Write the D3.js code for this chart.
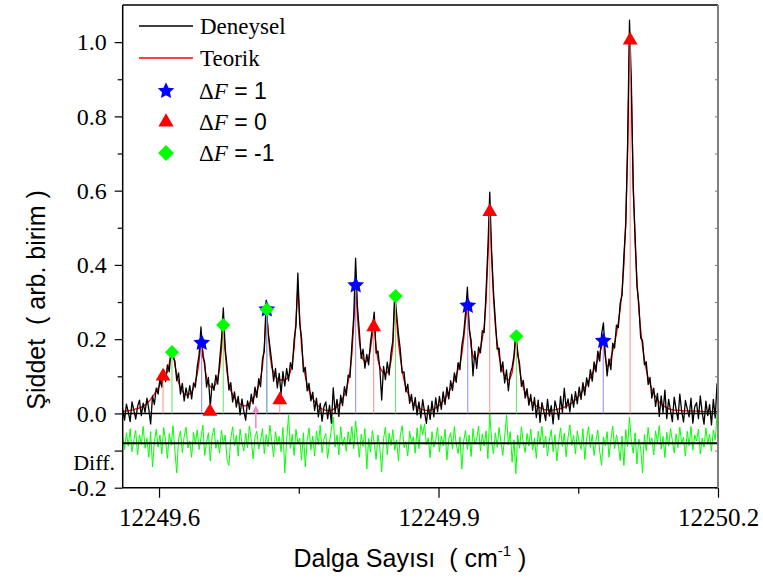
<!DOCTYPE html>
<html lang="tr">
<head>
  <meta charset="UTF-8">
  <title>Şiddet - Dalga Sayısı</title>
  <script src="https://cdn.jsdelivr.net/npm/d3@7/dist/d3.min.js"></script>
  <style>
    body { margin: 0; background: #fff; }
    svg { display: block; }
  </style>
</head>
<body>
<svg id="chart" width="763" height="581"></svg>
<script>
// spectrum grid (cm-1)
const wnStart = 12249.561;
const wnStep = 0.002;

// experimental spectrum (Deneysel)
const deneysel = [
  0.012,-0.018,0.025,0.004,-0.022,0.031,0.008,-0.015,0.019,0.036,-0.006,0.028,0.003,0.041,0.012,-0.028,0.047,0.024,0.068,0.052,
  0.094,0.071,0.118,0.086,0.131,0.112,0.176,0.151,0.142,0.088,0.109,0.052,0.081,0.034,0.069,0.041,0.075,0.039,0.082,0.071,
  0.126,0.158,0.233,0.152,0.138,0.071,0.097,0.018,0.081,0.062,0.103,0.079,0.141,0.198,0.284,0.176,0.127,0.063,0.083,0.031,
  0.058,0.017,0.046,-0.004,0.039,0.006,-0.018,0.034,0.011,0.052,0.026,0.071,0.043,0.094,0.072,0.146,0.168,0.305,0.219,0.181,
  0.138,0.087,0.121,0.069,0.108,0.052,0.113,0.074,0.121,0.088,0.137,0.119,0.198,0.236,0.378,0.241,0.203,0.112,0.124,0.061,
  0.081,0.034,0.057,0.008,0.041,-0.009,0.027,-0.021,0.018,0.031,-0.014,0.022,-0.026,0.069,0.002,0.038,-0.008,0.049,0.021,0.072,
  0.048,0.103,0.097,0.184,0.262,0.418,0.287,0.221,0.148,0.173,0.122,0.159,0.131,0.192,0.229,0.273,0.162,0.168,0.121,0.036,
  0.127,0.091,0.138,0.104,0.163,0.196,0.327,0.268,0.214,0.171,0.109,0.112,0.058,0.079,0.027,0.051,0.009,0.043,-0.004,0.031,
  -0.012,0.037,0.004,-0.027,0.021,-0.016,0.033,-0.009,0.042,0.005,0.046,0.011,0.058,0.024,0.071,0.039,0.088,0.062,0.109,0.084,
  0.137,0.118,0.182,0.214,0.271,0.340,0.226,0.197,0.101,0.168,0.121,0.179,0.163,0.223,0.218,0.327,0.446,0.596,0.437,0.328,
  0.251,0.173,0.176,0.112,0.139,0.082,0.117,0.061,0.108,0.124,0.156,0.220,0.158,0.134,0.073,0.089,0.041,0.067,0.022,0.051,
  0.008,0.043,-0.011,0.036,-0.024,0.029,0.006,-0.019,0.038,-0.007,0.021,-0.028,0.034,0.012,-0.016,0.046,0.003,0.068,0.014,0.039,
  0.004,0.051,0.017,0.059,0.026,0.071,0.038,0.083,0.049,0.096,0.072,0.118,0.087,0.139,0.112,0.168,0.141,0.212,0.244,0.162,
  0.101,0.147,0.118,0.189,0.176,0.238,0.231,0.297,0.318,0.426,0.508,0.731,1.059,0.893,0.604,0.481,0.342,0.297,0.203,0.196,
  0.131,0.139,0.078,0.097,0.041,0.068,0.019,0.054,-0.008,0.047,0.003,0.063,-0.014,0.038,0.009,-0.022,0.044,0.011,-0.017,0.052,
  0.006,-0.023,0.035,0.012,-0.009,0.041,-0.026,0.018,0.029,-0.014,0.047,0.002,-0.029,0.033,-0.006,0.024,-0.031,0.038,-0.012,0.081
];

// fitted spectrum (Teorik)
const teorik = [
  0.005,0.006,0.007,0.007,0.008,0.009,0.010,0.012,0.013,0.015,0.017,0.020,0.023,0.027,0.032,0.038,0.045,0.052,0.060,0.068,
  0.078,0.088,0.097,0.100,0.112,0.135,0.160,0.165,0.130,0.105,0.083,0.070,0.060,0.053,0.050,0.050,0.053,0.058,0.068,0.085,
  0.105,0.140,0.190,0.170,0.125,0.095,0.080,0.072,0.070,0.072,0.080,0.095,0.120,0.170,0.240,0.165,0.110,0.080,0.062,0.050,
  0.042,0.035,0.030,0.025,0.022,0.020,0.021,0.023,0.027,0.033,0.040,0.048,0.060,0.075,0.095,0.125,0.180,0.270,0.230,0.160,
  0.125,0.110,0.100,0.094,0.090,0.090,0.090,0.090,0.093,0.100,0.112,0.135,0.175,0.250,0.340,0.260,0.180,0.130,0.100,0.078,
  0.062,0.050,0.040,0.032,0.025,0.020,0.015,0.012,0.010,0.008,0.008,0.008,0.009,0.011,0.014,0.018,0.023,0.030,0.040,0.050,
  0.065,0.085,0.115,0.160,0.240,0.340,0.260,0.195,0.160,0.145,0.140,0.140,0.150,0.175,0.210,0.230,0.180,0.145,0.125,0.115,
  0.110,0.108,0.110,0.120,0.140,0.180,0.300,0.250,0.190,0.150,0.115,0.090,0.070,0.055,0.044,0.035,0.028,0.022,0.018,0.014,
  0.012,0.010,0.009,0.008,0.008,0.009,0.010,0.012,0.015,0.018,0.022,0.027,0.033,0.040,0.048,0.057,0.067,0.078,0.090,0.103,
  0.118,0.135,0.160,0.200,0.250,0.290,0.235,0.180,0.155,0.145,0.148,0.158,0.175,0.200,0.235,0.300,0.420,0.540,0.420,0.310,
  0.235,0.190,0.155,0.130,0.113,0.100,0.093,0.090,0.095,0.110,0.145,0.200,0.170,0.120,0.090,0.070,0.058,0.048,0.040,0.034,
  0.029,0.024,0.020,0.017,0.015,0.013,0.011,0.010,0.010,0.009,0.009,0.009,0.010,0.011,0.012,0.013,0.015,0.017,0.019,0.022,
  0.025,0.028,0.032,0.037,0.042,0.048,0.055,0.062,0.070,0.078,0.087,0.096,0.106,0.118,0.130,0.145,0.160,0.180,0.195,0.150,
  0.125,0.130,0.148,0.168,0.190,0.215,0.245,0.280,0.330,0.400,0.520,0.700,1.000,0.860,0.620,0.460,0.360,0.280,0.225,0.180,
  0.145,0.118,0.096,0.080,0.066,0.055,0.045,0.037,0.030,0.025,0.021,0.018,0.015,0.013,0.011,0.010,0.009,0.009,0.008,0.008,
  0.008,0.007,0.007,0.007,0.007,0.006,0.006,0.006,0.006,0.006,0.006,0.005,0.005,0.005,0.005,0.005,0.005,0.005,0.005,0.005
];

// residual, plotted around -0.08 (Diff.)
const fark = [
  -0.064,-0.097,-0.052,-0.088,-0.041,-0.103,-0.071,-0.046,-0.112,-0.058,-0.083,-0.035,-0.094,-0.067,-0.118,-0.049,-0.144,-0.076,-0.043,-0.091,
  -0.058,-0.109,-0.038,-0.072,-0.121,-0.054,-0.086,-0.033,-0.099,-0.160,-0.069,-0.047,-0.105,-0.062,-0.037,-0.093,-0.074,-0.118,-0.051,-0.082,
  -0.044,-0.097,-0.066,-0.031,-0.113,-0.078,-0.052,-0.128,-0.061,-0.039,-0.094,-0.071,-0.107,-0.045,-0.083,-0.058,-0.124,-0.140,-0.068,-0.036,
  -0.087,-0.059,-0.115,-0.042,-0.079,-0.101,-0.053,-0.092,-0.034,-0.071,-0.122,-0.063,-0.048,-0.096,-0.074,-0.041,-0.108,-0.057,-0.089,-0.032,
  -0.076,-0.117,-0.049,-0.085,-0.062,-0.103,-0.038,-0.160,-0.071,-0.005,-0.094,-0.056,-0.113,-0.043,-0.081,-0.067,-0.126,-0.052,-0.144,-0.073,
  -0.039,-0.098,-0.061,-0.115,-0.047,-0.084,-0.032,-0.106,-0.069,-0.054,-0.121,-0.077,-0.043,-0.010,-0.091,-0.058,-0.112,-0.036,-0.087,-0.064,
  -0.102,-0.049,-0.083,-0.035,-0.095,-0.020,-0.072,-0.118,-0.056,-0.089,-0.041,-0.150,-0.067,-0.104,-0.046,-0.079,-0.124,-0.058,-0.093,-0.157,
  -0.068,-0.037,-0.111,-0.053,-0.086,-0.044,-0.099,-0.071,-0.128,-0.059,-0.033,-0.092,-0.076,-0.114,-0.048,-0.081,-0.063,-0.107,-0.039,-0.095,
  -0.030,-0.057,-0.028,-0.084,-0.066,-0.119,-0.049,-0.091,-0.072,-0.038,-0.104,-0.061,-0.087,-0.043,-0.125,-0.069,-0.052,-0.096,-0.035,-0.082,
  -0.108,-0.063,-0.150,-0.074,-0.046,-0.097,-0.058,-0.116,-0.041,-0.083,-0.069,-0.034,-0.101,-0.055,-0.088,-0.047,-0.122,0.000,-0.073,-0.109,
  -0.052,-0.091,-0.038,-0.077,-0.113,-0.062,-0.005,-0.084,-0.049,-0.131,-0.071,-0.162,-0.058,-0.094,-0.036,-0.079,-0.105,-0.054,-0.088,-0.042,
  -0.099,-0.067,-0.121,-0.048,-0.082,-0.035,-0.093,-0.061,-0.114,-0.072,-0.044,-0.103,-0.057,-0.128,-0.076,-0.039,-0.089,-0.053,-0.117,-0.065,
  -0.031,-0.086,-0.059,-0.109,-0.047,-0.078,-0.097,-0.041,-0.124,-0.068,-0.036,-0.092,-0.056,-0.113,-0.074,-0.045,-0.101,-0.140,-0.063,-0.087,
  -0.049,-0.118,-0.071,-0.034,-0.095,-0.058,-0.083,-0.127,-0.061,-0.140,-0.044,-0.089,-0.010,-0.076,-0.107,-0.052,-0.136,-0.069,-0.093,-0.160,
  -0.057,-0.101,-0.038,-0.084,-0.066,-0.112,-0.047,-0.079,-0.033,-0.096,-0.062,-0.119,-0.051,-0.088,-0.041,-0.073,-0.106,-0.055,-0.092,-0.037,
  -0.081,-0.064,-0.115,-0.048,-0.087,-0.035,-0.099,-0.058,-0.074,-0.042,-0.109,-0.066,-0.091,-0.039,-0.083,-0.056,-0.102,-0.045,-0.071,-0.004
];
const diffBase = -0.08;

// line positions and intensities
const dF1Pos = [12249.6458, 12249.7157, 12249.8111, 12249.9314, 12250.0768];
const dF1Val = [0.190, 0.280, 0.345, 0.290, 0.195];
const dF0Pos = [12249.6043, 12249.6546, 12249.7296, 12249.8304, 12249.9550, 12250.1057];
const dF0Val = [0.100, 0.005, 0.036, 0.233, 0.543, 1.005];
const dFm1Pos = [12249.6139, 12249.6689, 12249.7157, 12249.8539, 12249.9836];
const dFm1Val = [0.165, 0.238, 0.280, 0.316, 0.208];

// small pink arrow under the baseline
const arrowPos = [12249.7039];
const arrowFrom = [-0.040];
const arrowTo = [0.022];

// ticks
const yTicks = [-0.2, -0.1, 0.0, 0.1, 0.2, 0.3, 0.4, 0.5, 0.6, 0.7, 0.8, 0.9, 1.0];
const yLabeled = [-0.2, 0.0, 0.2, 0.4, 0.6, 0.8, 1.0];
const xTicks = [12249.6, 12249.75, 12249.9, 12250.05, 12250.2];
const xLabeled = [12249.6, 12249.9, 12250.2];

const serif = '"Liberation Serif", "Times New Roman", serif';
const sans = '"Liberation Sans", Arial, sans-serif';

const svg = d3.select('#chart');
const L = 122.7, R = 718, T = 5, B = 487.7;

const x = d3.scaleLinear().domain([12249.561, 12250.2]).range([L, R]);
const y = d3.scaleLinear().domain([-0.2, 1.1]).range([B, T]);

// five-point star with fatter arms than d3.symbolStar
const fatStar = {
  draw(ctx, size) {
    const r = Math.sqrt(size), ri = r * 0.48;
    for (let k = 0; k < 10; k++) {
      const rr = k % 2 ? ri : r;
      const a = -Math.PI / 2 + k * Math.PI / 5;
      if (k === 0) ctx.moveTo(rr * Math.cos(a), rr * Math.sin(a));
      else ctx.lineTo(rr * Math.cos(a), rr * Math.sin(a));
    }
    ctx.closePath();
  }
};

svg.append('defs').append('clipPath').attr('id', 'plot-clip')
  .append('rect').attr('x', L).attr('y', T).attr('width', R - L).attr('height', B - T);

const plot = svg.append('g').attr('clip-path', 'url(#plot-clip)');

const spectrumLine = d3.line()
  .x((d, i) => x(wnStart + i * wnStep))
  .y(d => y(d));

// diff trace
plot.append('path').datum(fark)
  .attr('d', spectrumLine)
  .attr('fill', 'none').attr('stroke', '#00ff00').attr('stroke-width', 1);

// theory under experiment
plot.append('path').datum(teorik)
  .attr('d', spectrumLine)
  .attr('fill', 'none').attr('stroke', '#ff0000').attr('stroke-width', 1.3);

plot.append('path').datum(deneysel)
  .attr('d', spectrumLine)
  .attr('fill', 'none').attr('stroke', '#000').attr('stroke-width', 1.3)
  .attr('stroke-linejoin', 'round');

// baselines
plot.append('line')
  .attr('x1', L).attr('x2', R).attr('y1', y(0)).attr('y2', y(0))
  .attr('stroke', '#000').attr('stroke-width', 1.5);
plot.append('line')
  .attr('x1', L).attr('x2', R).attr('y1', y(diffBase)).attr('y2', y(diffBase))
  .attr('stroke', '#000').attr('stroke-width', 2);

// stick lines
const sticks = [
  { pos: dF0Pos, val: dF0Val, color: '#ff8c8c' },
  { pos: dFm1Pos, val: dFm1Val, color: '#5fea5f' },
  { pos: dF1Pos, val: dF1Val, color: '#8c8cff' }
];
sticks.forEach(s => {
  plot.selectAll(null)
    .data(s.pos)
    .join('line')
    .attr('x1', d => x(d)).attr('x2', d => x(d))
    .attr('y1', y(0)).attr('y2', (d, i) => y(s.val[i]))
    .attr('stroke', s.color).attr('stroke-width', 1);
});

// pink arrow
plot.selectAll(null)
  .data(arrowPos)
  .join('line')
  .attr('x1', d => x(d)).attr('x2', d => x(d))
  .attr('y1', (d, i) => y(arrowFrom[i])).attr('y2', (d, i) => y(arrowTo[i]) + 4)
  .attr('stroke', '#e68ac8').attr('stroke-width', 1.5);
plot.selectAll(null)
  .data(arrowPos)
  .join('path')
  .attr('d', (d, i) => {
    const px = x(d), py = y(arrowTo[i]);
    return `M${px},${py}L${px - 3.5},${py + 7}L${px + 3.5},${py + 7}Z`;
  })
  .attr('fill', '#e68ac8');

// markers
const star = d3.symbol().type(fatStar).size(78);
const tri = d3.symbol().type(d3.symbolTriangle).size(95);
const dia = d3.symbol().type(d3.symbolSquare).size(100);

svg.selectAll('.m-star')
  .data(dF1Pos)
  .join('path')
  .attr('class', 'm-star')
  .attr('d', star)
  .attr('transform', (d, i) => `translate(${x(d)},${y(dF1Val[i])})`)
  .attr('fill', '#0000ff');

svg.selectAll('.m-tri')
  .data(dF0Pos)
  .join('path')
  .attr('class', 'm-tri')
  .attr('d', tri)
  .attr('transform', (d, i) => `translate(${x(d)},${y(dF0Val[i])})`)
  .attr('fill', '#ff0000');

svg.selectAll('.m-dia')
  .data(dFm1Pos)
  .join('path')
  .attr('class', 'm-dia')
  .attr('d', dia)
  .attr('transform', (d, i) => `translate(${x(d)},${y(dFm1Val[i])}) rotate(45)`)
  .attr('fill', '#00ff00');

// axes
const yAxis = svg.append('g')
  .attr('transform', `translate(${L},0)`)
  .call(d3.axisLeft(y).tickValues(yTicks).tickSize(8).tickSizeOuter(0).tickPadding(8)
    .tickFormat(d => yLabeled.some(v => Math.abs(v - d) < 1e-9) ? d.toFixed(1) : ''));
yAxis.select('.domain').remove();
yAxis.selectAll('.tick line')
  .attr('x2', d => yLabeled.some(v => Math.abs(v - d) < 1e-9) || Math.abs(d + 0.1) < 1e-9 ? -8 : -5)
  .attr('stroke-width', 1.2);
yAxis.selectAll('.tick text')
  .attr('font-family', serif).attr('font-size', 24).attr('fill', '#000');

const yAxisRight = svg.append('g')
  .attr('transform', `translate(${R},0)`)
  .call(d3.axisLeft(y).tickValues(yTicks).tickSize(3).tickFormat(''));
yAxisRight.select('.domain').remove();
yAxisRight.selectAll('.tick line').attr('stroke', '#777');

const xAxis = svg.append('g')
  .attr('transform', `translate(0,${B})`)
  .call(d3.axisBottom(x).tickValues(xTicks).tickSize(10).tickSizeOuter(0).tickPadding(11)
    .tickFormat(d => xLabeled.some(v => Math.abs(v - d) < 1e-6) ? d.toFixed(1) : ''));
xAxis.select('.domain').remove();
xAxis.selectAll('.tick line')
  .attr('y2', d => xLabeled.some(v => Math.abs(v - d) < 1e-6) ? 10 : 6)
  .attr('stroke-width', 1.2);
xAxis.selectAll('.tick text')
  .attr('font-family', serif).attr('font-size', 25).attr('fill', '#000');

// frame
svg.append('line').attr('x1', L).attr('x2', R).attr('y1', T).attr('y2', T)
  .attr('stroke', '#000').attr('stroke-width', 1.5);
svg.append('line').attr('x1', L).attr('x2', R).attr('y1', B).attr('y2', B)
  .attr('stroke', '#000').attr('stroke-width', 1.5);
svg.append('line').attr('x1', L).attr('x2', L).attr('y1', T).attr('y2', B)
  .attr('stroke', '#000').attr('stroke-width', 1.5);
svg.append('line').attr('x1', R).attr('x2', R).attr('y1', T).attr('y2', B)
  .attr('stroke', '#808080').attr('stroke-width', 2);

// Diff. label
svg.append('text')
  .attr('x', 115).attr('y', 470)
  .attr('text-anchor', 'end')
  .attr('font-family', serif).attr('font-size', 22)
  .text('Diff.');

// axis titles
const xTitle = svg.append('text')
  .attr('x', 410).attr('y', 567)
  .attr('text-anchor', 'middle')
  .attr('font-family', sans).attr('font-size', 25)
  .style('white-space', 'pre');
xTitle.append('tspan').text('Dalga Sayısı  ( cm');
xTitle.append('tspan').attr('dy', -11).attr('font-size', 15).text('-1');
xTitle.append('tspan').attr('dy', 11).text(' )');

svg.append('text')
  .attr('transform', 'translate(45,300) rotate(-90)')
  .attr('text-anchor', 'middle')
  .attr('font-family', sans).attr('font-size', 25)
  .style('white-space', 'pre')
  .text('Şiddet  ( arb. birim )');

// legend
const legend = svg.append('g');
const legendRows = [
  { kind: 'line', color: '#000', label: 'Deneysel', y: 26 },
  { kind: 'line', color: '#ff0000', label: 'Teorik', y: 58 },
  { kind: 'star', label: '1', y: 91 },
  { kind: 'tri', label: '0', y: 122 },
  { kind: 'dia', label: '-1', y: 153 }
];
legendRows.forEach(r => {
  if (r.kind === 'line') {
    legend.append('line')
      .attr('x1', 139).attr('x2', 193).attr('y1', r.y).attr('y2', r.y)
      .attr('stroke', r.color).attr('stroke-width', 1.3);
    legend.append('text')
      .attr('x', 200).attr('y', r.y + 8)
      .attr('font-family', serif).attr('font-size', 23)
      .text(r.label);
  } else {
    const sym = r.kind === 'star' ? d3.symbol().type(fatStar).size(75)
      : r.kind === 'tri' ? d3.symbol().type(d3.symbolTriangle).size(100)
      : d3.symbol().type(d3.symbolSquare).size(125);
    const fill = r.kind === 'star' ? '#0000ff' : r.kind === 'tri' ? '#ff0000' : '#00ff00';
    legend.append('path')
      .attr('d', sym)
      .attr('transform', `translate(166,${r.y})` + (r.kind === 'dia' ? ' rotate(45)' : ''))
      .attr('fill', fill);
    const t = legend.append('text')
      .attr('x', 199).attr('y', r.y + 8)
      .attr('font-size', 23)
      .style('white-space', 'pre');
    t.append('tspan').attr('font-family', serif).text('Δ');
    t.append('tspan').attr('font-family', serif).attr('font-style', 'italic').text('F');
    t.append('tspan').attr('font-family', sans).text(' = ' + r.label);
  }
});
</script>
</body>
</html>
